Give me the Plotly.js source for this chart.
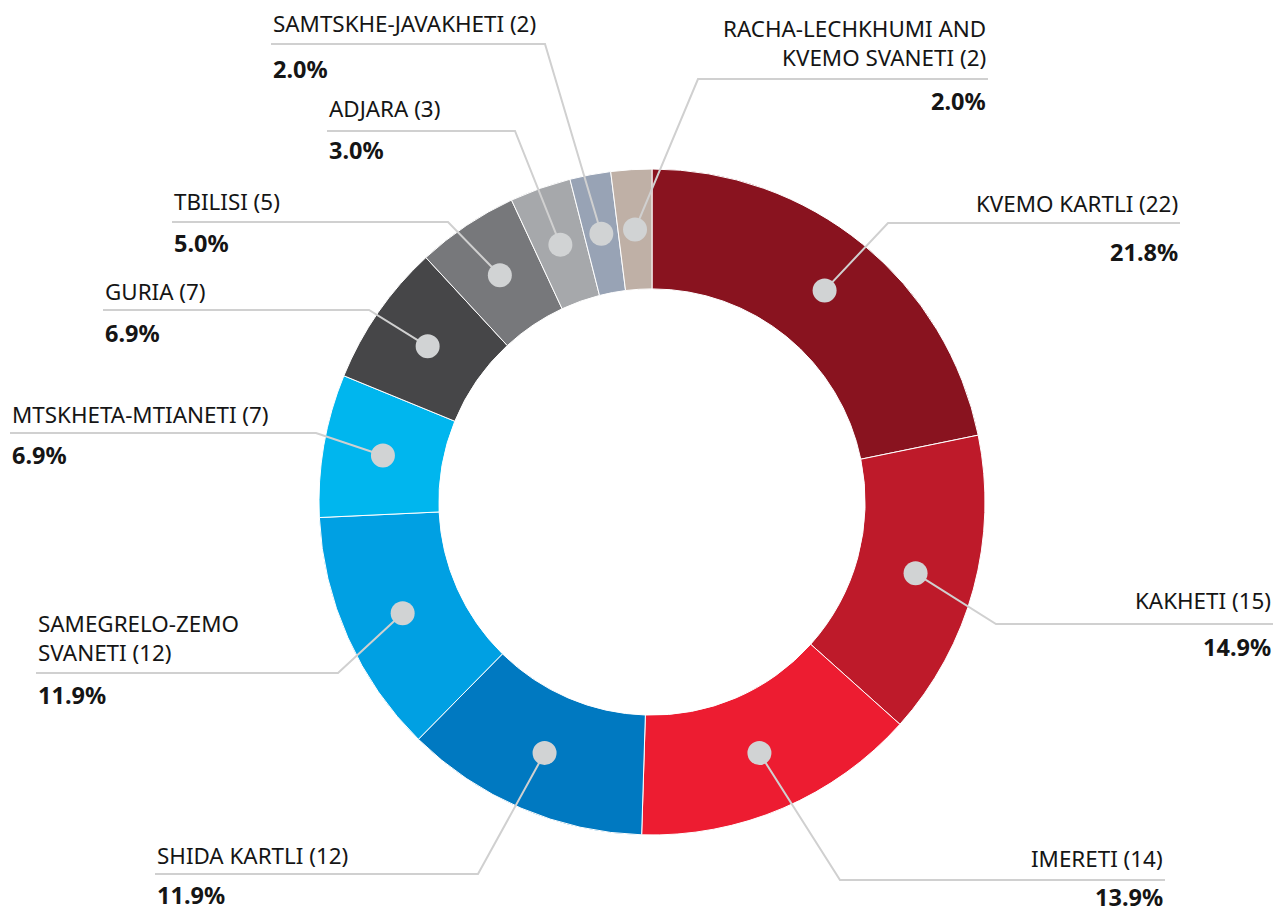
<!DOCTYPE html>
<html>
<head>
<meta charset="utf-8">
<script src="https://cdn.plot.ly/plotly-3.0.1.min.js"></script>
<style>
html,body{margin:0;padding:0;background:#fff;}
#chart{width:1282px;height:914px;}
</style>
</head>
<body>
<div id="chart"></div>
<script>
// ---- data ----
const regions = ["KVEMO KARTLI", "KAKHETI", "IMERETI", "SHIDA KARTLI", "SAMEGRELO-ZEMO<br>SVANETI", "MTSKHETA-MTIANETI", "GURIA", "TBILISI", "ADJARA", "SAMTSKHE-JAVAKHETI", "RACHA-LECHKHUMI AND<br>KVEMO SVANETI"];
const counts = [22, 15, 14, 12, 12, 7, 7, 5, 3, 2, 2];
const colors = ["#89131F", "#BE1A2A", "#ED1C31", "#0079C1", "#00A0E3", "#00B6EE", "#464648", "#77787B", "#A6A8AB", "#98A3B5", "#BFB0A6"];

// ---- label layout (pixel positions of leader elbows / text ends / text offsets) ----
const W = 1282, H = 914;
const cx = 652, cy = 502, R = 333, hole = 0.64;
const labelLayout = [
  {side: "R", ex: 888, ey: 223, end: 1180, nb: 10, pd: 20},
  {side: "R", ex: 996, ey: 624, end: 1273, nb: 14, pd: 14},
  {side: "R", ex: 840, ey: 880, end: 1165, nb: 12, pd: 8},
  {side: "L", ex: 478, ey: 874, end: 155, nb: 9, pd: 12},
  {side: "L", ex: 338, ey: 673, end: 36, nb: 10.5, pd: 13},
  {side: "L", ex: 316, ey: 433, end: 10, nb: 9, pd: 13},
  {side: "L", ex: 369, ey: 310, end: 103, nb: 9, pd: 14},
  {side: "L", ex: 448, ey: 222, end: 172, nb: 11, pd: 12},
  {side: "L", ex: 515, ey: 131, end: 327, nb: 12.5, pd: 10},
  {side: "L", ex: 545, ey: 44, end: 271, nb: 11, pd: 16},
  {side: "R", ex: 698, ey: 79, end: 988, nb: 12, pd: 13}
];

const total = counts.reduce((a, b) => a + b, 0);
const FONT = "Noto Sans, Lato, sans-serif";
const NAME_SIZE = 22.4, PCT_SIZE = 23.5;
const lineColor = "#D0D0D0";
const dotColor = "#D1D3D4";
const dotR = 12;
const midR = R * (1 + hole) / 2;

const shapes = [];
const annotations = [];
let cum = 0;
counts.forEach((v, i) => {
  const ang = (cum + v / 2) / total * 2 * Math.PI;
  cum += v;
  const dx = cx + midR * Math.sin(ang);
  const dy = cy - midR * Math.cos(ang);
  const L = labelLayout[i];
  shapes.push({type: "path", xref: "x", yref: "y", layer: "above",
    path: `M${dx},${dy} L${L.ex},${L.ey} L${L.end},${L.ey}`,
    line: {color: lineColor, width: 2}});
  shapes.push({type: "circle", xref: "x", yref: "y", layer: "above",
    x0: dx - dotR, x1: dx + dotR, y0: dy - dotR, y1: dy + dotR,
    fillcolor: dotColor, line: {width: 0}});
  const anchor = L.side === "R" ? "right" : "left";
  // baseline ~ box bottom - (1 + descent)
  annotations.push({xref: "x", yref: "y", x: L.end, y: L.ey - L.nb + 1 + 0.293 * NAME_SIZE,
    xanchor: anchor, yanchor: "bottom", align: anchor, showarrow: false,
    text: regions[i] + " (" + v + ")",
    font: {family: FONT, size: NAME_SIZE, color: "#151515"}});
  // cap top ~ box top + 1 + (ascent - capHeight)
  annotations.push({xref: "x", yref: "y", x: L.end, y: L.ey + L.pd - 1 - 0.355 * PCT_SIZE,
    xanchor: anchor, yanchor: "top", align: anchor, showarrow: false,
    text: "<b>" + (v / total * 100).toFixed(1) + "%</b>",
    font: {family: FONT, size: PCT_SIZE, color: "#151515"}});
});

const pie = {
  type: "pie",
  values: counts,
  labels: regions,
  marker: {colors: colors, line: {color: "#ffffff", width: 1}},
  sort: false,
  direction: "clockwise",
  rotation: 0,
  hole: hole,
  textinfo: "none",
  hoverinfo: "none",
  showlegend: false,
  domain: {x: [(cx - R) / W, (cx + R) / W], y: [(H - cy - R) / H, (H - cy + R) / H]}
};

const layout = {
  width: W, height: H,
  margin: {l: 0, r: 0, t: 0, b: 0},
  paper_bgcolor: "#fff", plot_bgcolor: "rgba(0,0,0,0)",
  xaxis: {range: [0, W], visible: false, fixedrange: true, domain: [0, 1]},
  yaxis: {range: [H, 0], visible: false, fixedrange: true, domain: [0, 1]},
  shapes: shapes,
  annotations: annotations,
  showlegend: false
};

Plotly.newPlot("chart", [pie], layout, {displayModeBar: false, staticPlot: true});
</script>
</body>
</html>
